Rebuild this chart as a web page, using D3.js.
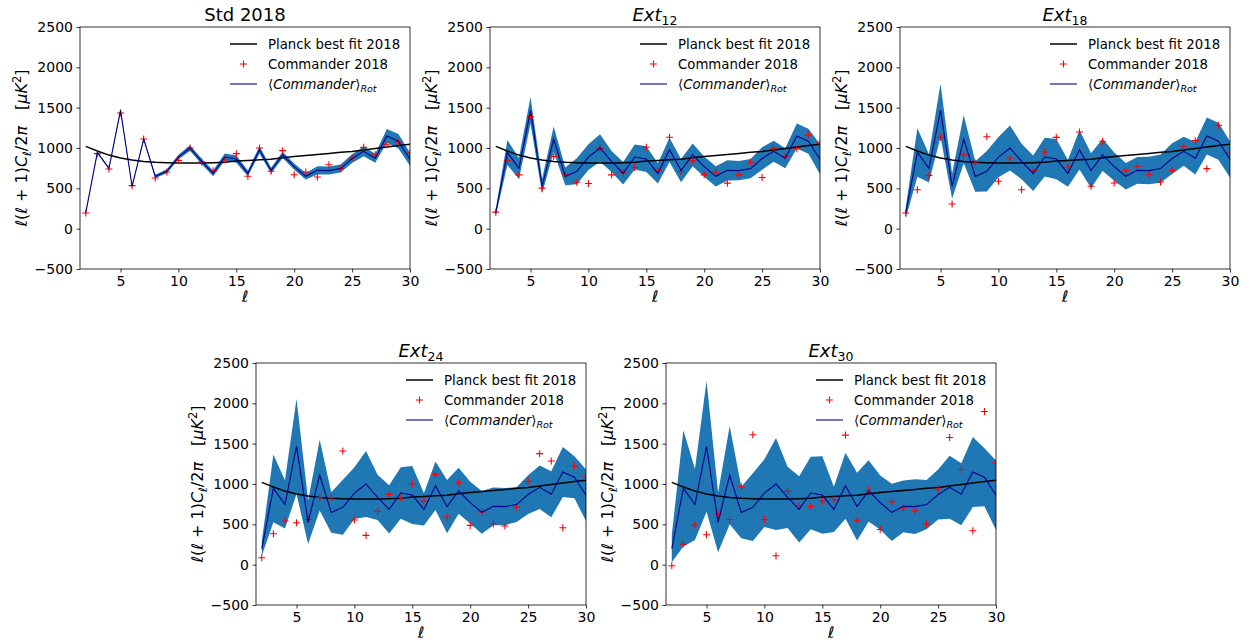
<!DOCTYPE html>
<html><head><meta charset="utf-8">
<script src="https://cdn.jsdelivr.net/npm/d3@7"></script>
<style>
body{margin:0;background:#fff}
text{font-family:"DejaVu Sans",sans-serif;fill:#000}
</style>
</head><body>
<svg id="c" width="1256" height="643"></svg>
<script>
// ---- data ----
const ell = [2,3,4,5,6,7,8,9,10,11,12,13,14,15,16,17,18,19,20,21,22,23,24,25,26,27,28,29,30];
const planck = [1020,962,912,875,850,834,824,818,815,814,815,818,823,838,845,853,862,878,895,908,920,933,946,958,975,993,1011,1030,1048];
const rotMean = [200,945,747,1467,525,1110,647,712,887,1000,834,686,888,863,685,978,720,915,769,649,723,720,745,869,959,873,1149,1084,860];

const commanderStd   = [194,930,740,1434,533,1111,628,702,847,1000,826,719,855,930,649,1000,711,967,669,702,640,793,744,876,1008,917,1041,1074,940];
const commanderExt12 = [205,841,667,1390,502,895,676,576,560,998,667,700,758,1010,717,1134,709,841,667,700,564,667,824,634,998,895,990,1163,1072];
const commanderExt18 = [194,483,661,1132,306,917,814,1140,587,876,483,719,950,1132,764,1198,525,1083,566,719,773,669,578,723,1021,1091,744,1281,938];
const commanderExt24 = [86,384,541,520,560,830,830,1409,553,363,661,871,830,1004,789,1119,590,1016,487,652,508,479,714,1033,1376,1285,458,1223,1090];
const commanderExt30 = [-14,255,490,370,627,560,965,1610,560,110,908,730,722,784,804,1606,552,928,436,779,701,668,503,937,1577,1180,420,1899,1267];

const sigmaStd   = [10,10,10,15,10,15,20,25,30,35,35,35,45,45,35,45,35,40,40,40,50,50,50,55,60,55,85,90,80];
const sigmaExt12 = [40,155,130,165,90,155,110,160,160,170,130,140,155,160,125,150,145,140,125,125,125,120,120,140,130,125,155,155,185];
const sigmaExt18 = [70,300,175,330,155,300,190,250,250,280,220,220,240,250,165,245,215,200,175,165,165,170,175,190,180,200,230,230,225];
const sigmaExt24 = [90,420,300,590,270,440,250,340,320,410,280,300,320,360,200,300,330,285,260,265,235,230,215,240,270,285,310,260,320];
const sigmaExt30 = [170,720,440,810,370,610,320,420,420,570,380,410,450,480,280,410,420,380,335,355,320,340,305,310,390,385,435,360,430];

const yTicks = [-500,0,500,1000,1500,2000,2500];
const xTicks = [5,10,15,20,25,30];
const xDomain = [1.5,30];
const yDomain = [-500,2500];

const legendLabels = ["Planck best fit 2018","Commander 2018","Commander"];

const panels = [
  {title:"Std 2018", sub:null, commander:commanderStd, sigma:sigmaStd, left:80, top:27},
  {title:"Ext", sub:"12", commander:commanderExt12, sigma:sigmaExt12, left:490, top:27},
  {title:"Ext", sub:"18", commander:commanderExt18, sigma:sigmaExt18, left:900, top:27},
  {title:"Ext", sub:"24", commander:commanderExt24, sigma:sigmaExt24, left:256, top:363},
  {title:"Ext", sub:"30", commander:commanderExt30, sigma:sigmaExt30, left:666, top:363}
];

// ---- drawing ----
const svg = d3.select('#c');
const W = 330, H = 242;
const FS = 13.3, TFS = 14;

function drawPanel(p, idx){
  const g = svg.append('g').attr('transform',`translate(${p.left},${p.top})`);
  const x = d3.scaleLinear().domain(xDomain).range([0,W]);
  const y = d3.scaleLinear().domain(yDomain).range([H,0]);
  const cid = 'clip'+idx;
  g.append('clipPath').attr('id',cid).append('rect').attr('width',W).attr('height',H);
  const pg = g.append('g').attr('clip-path',`url(#${cid})`);

  const area = d3.area()
    .x((d,i)=>x(ell[i]))
    .y0((d,i)=>y(rotMean[i]-p.sigma[i]))
    .y1((d,i)=>y(rotMean[i]+p.sigma[i]));
  pg.append('path').datum(ell).attr('d',area).attr('fill','#1f77b4');

  const line = arr => d3.line().x((d,i)=>x(ell[i])).y((d,i)=>y(arr[i]))(ell);
  pg.append('path').attr('d',line(planck)).attr('fill','none').attr('stroke','#000').attr('stroke-width',1.5);

  const s = 3.5;
  pg.selectAll('path.cm').data(p.commander).join('path').attr('class','cm')
    .attr('d',(d,i)=>{const cx=x(ell[i]), cy=y(d); return `M${cx-s},${cy}H${cx+s}M${cx},${cy-s}V${cy+s}`;})
    .attr('stroke','#ff0000').attr('stroke-width',1.1).attr('fill','none');

  pg.append('path').attr('d',line(rotMean)).attr('fill','none').attr('stroke','#00008b').attr('stroke-width',1.1);

  // axes
  const ax = g.append('g').attr('transform',`translate(0,${H})`)
    .call(d3.axisBottom(x).tickValues(xTicks).tickSize(3.5).tickPadding(3.5).tickFormat(d3.format('d')));
  const ay = g.append('g')
    .call(d3.axisLeft(y).tickValues(yTicks).tickSize(3.5).tickPadding(3.5).tickFormat(d=>d<0?'\u2212'+Math.abs(d):String(d)));
  [ax,ay].forEach(a=>{
    a.select('.domain').remove();
    a.selectAll('text').attr('font-size',TFS).attr('font-family','DejaVu Sans').attr('fill','#000');
    a.selectAll('line').attr('stroke','#000').attr('stroke-width',0.8);
  });
  g.append('rect').attr('width',W).attr('height',H).attr('fill','none').attr('stroke','#000').attr('stroke-width',0.8);

  // title
  const t = g.append('text').attr('x',W/2).attr('y',-6).attr('text-anchor','middle').attr('font-size',18);
  if(p.sub){
    t.append('tspan').attr('font-style','italic').text(p.title);
    t.append('tspan').attr('dy',4).attr('font-size',12.5).text(p.sub);
  } else {
    t.text(p.title);
  }

  // x label
  g.append('text').attr('x',W/2).attr('y',H+33).attr('text-anchor','middle')
    .attr('font-size',16).attr('font-style','italic').text('\u2113');

  // y label
  const yl = g.append('text').attr('transform',`translate(-53,${H/2}) rotate(-90)`)
    .attr('text-anchor','middle').attr('font-size',16);
  const seg = (txt,it,dy,fs)=>{const ts=yl.append('tspan').text(txt); if(it) ts.attr('font-style','italic'); if(dy) ts.attr('dy',dy); if(fs) ts.attr('font-size',fs); return ts;};
  seg('\u2113',true); seg('(',false); seg('\u2113',true); seg(' + 1)',false);
  seg('C',true); seg('\u2113',true,4,11.5); seg('/2',false,-4); seg('\u03c0',true);
  seg('\u2002\u2002[',false); seg('\u03bcK',true); seg('2',false,-6,11.5); seg(']',false,6);

  // legend
  const lg = g.append('g').attr('transform',`translate(150,17)`);
  const rowH = 20;
  lg.append('line').attr('x1',0).attr('x2',27).attr('y1',0).attr('y2',0).attr('stroke','#000').attr('stroke-width',1.5);
  lg.append('path').attr('d',`M${13.5-s},${rowH}H${13.5+s}M13.5,${rowH-s}V${rowH+s}`).attr('stroke','#ff0000').attr('stroke-width',1.1);
  lg.append('line').attr('x1',0).attr('x2',27).attr('y1',2*rowH).attr('y2',2*rowH).attr('stroke','#00008b').attr('stroke-width',1.1);
  lg.append('text').attr('x',38).attr('y',0).attr('dy','0.35em').attr('font-size',FS).text(legendLabels[0]);
  lg.append('text').attr('x',38).attr('y',rowH).attr('dy','0.35em').attr('font-size',FS).text(legendLabels[1]);
  const l3 = lg.append('text').attr('x',38).attr('y',2*rowH).attr('dy','0.35em').attr('font-size',FS);
  l3.append('tspan').text('\u27e8');
  l3.append('tspan').attr('font-style','italic').text(legendLabels[2]);
  l3.append('tspan').text('\u27e9');
  l3.append('tspan').attr('font-style','italic').attr('font-size',9.5).attr('dy',3.5).text('Rot');
}

panels.forEach(drawPanel);
</script>
</body></html>
